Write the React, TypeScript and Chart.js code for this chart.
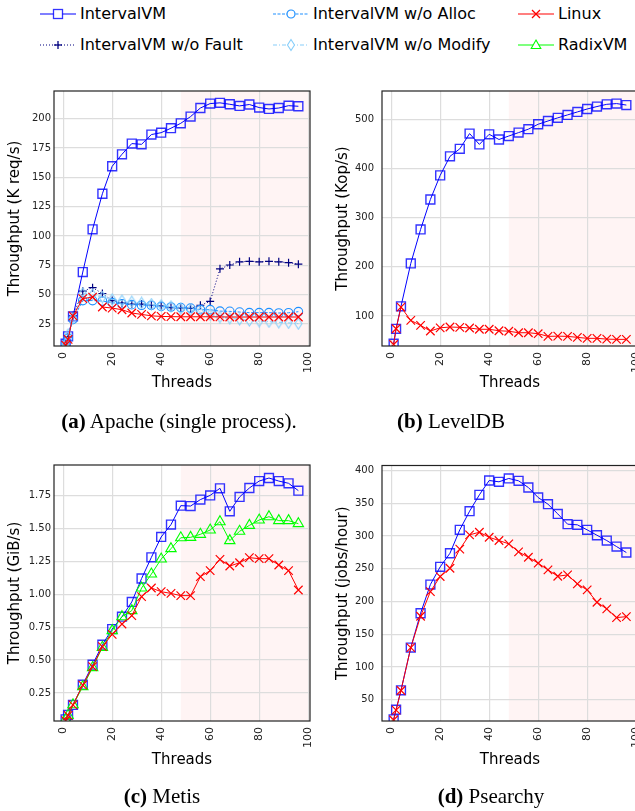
import React, { useEffect, useRef } from 'react';
import { Chart, registerables } from 'chart.js';

Chart.register(...registerables);

// ---------------- data ----------------
const threads = [1, 2, 4, 8, 12, 16, 20, 24, 28, 32, 36, 40, 44, 48, 52, 56, 60, 64, 68, 72, 76, 80, 84, 88, 92, 96];
const shadeStart = 48;
const xTicks = [0, 20, 40, 60, 80, 100];

// (a) Apache
const apacheInterval = [8.2, 14.5, 31.5, 69.3, 105.7, 136, 159.4, 169.6, 178.7, 178.1, 186.4, 188, 191.8, 196, 201.7, 209, 212.8, 213.4, 212.2, 210.8, 212, 209.4, 208.2, 209, 211, 210.5];
const apacheNoFault = [8, 14, 32, 53, 56, 51, 45, 43, 42, 42, 41, 40.6, 39, 38.6, 38.4, 41, 44.3, 72, 75.3, 78, 78.4, 78, 78.4, 78, 77.3, 76];
const apacheNoAlloc = [8, 13, 29, 45, 45, 44.6, 43.2, 42.3, 41.5, 41, 41, 40, 39.5, 39, 38.6, 37.2, 37.2, 36, 35.8, 35.2, 34.7, 34.7, 34.7, 34.4, 34.6, 35.5];
const apacheNoModify = [8, 16, 30, 51, 50, 48, 46, 45, 44, 43, 42, 41, 40, 38, 37, 35, 33, 31, 30, 29, 28, 27.5, 27, 26.5, 26, 25.3];
const apacheLinux = [7, 12, 32, 46.6, 48, 39.5, 38.6, 37.2, 34.4, 33.2, 32, 31.5, 31.3, 31.2, 31.2, 31.2, 31.2, 31.1, 31, 31, 31, 31, 31, 31, 31, 31];
const apacheYTicks = [25, 50, 75, 100, 125, 150, 175, 200];

// (b) LevelDB
const leveldbInterval = [43.7, 74, 119.7, 207, 276, 337, 386, 424.7, 440, 471, 449, 469.5, 459, 466, 473, 480, 490, 496.6, 503, 509, 515, 521, 526, 530.5, 532, 529];
const leveldbLinux = [42, 74, 118, 91, 81, 69.5, 76, 77.6, 77, 75.6, 73, 73, 70, 69, 66, 66, 64, 58.6, 59, 58.6, 56.6, 54.6, 54.6, 53, 52.5, 52.5];
const leveldbYTicks = [100, 200, 300, 400, 500];

// (c) Metis
const metisInterval = [0.05, 0.083, 0.159, 0.313, 0.465, 0.617, 0.736, 0.83, 0.942, 1.12, 1.281, 1.436, 1.53, 1.674, 1.671, 1.72, 1.752, 1.806, 1.631, 1.74, 1.808, 1.861, 1.884, 1.861, 1.844, 1.788];
const metisRadix = [0.05, 0.08, 0.16, 0.298, 0.443, 0.597, 0.724, 0.83, 0.876, 1.048, 1.154, 1.268, 1.347, 1.43, 1.433, 1.456, 1.489, 1.552, 1.408, 1.479, 1.524, 1.565, 1.59, 1.56, 1.56, 1.537];
const metisLinux = [0.04, 0.08, 0.16, 0.31, 0.45, 0.602, 0.696, 0.774, 0.838, 0.982, 1.048, 1.02, 1.007, 0.99, 0.99, 1.134, 1.18, 1.266, 1.215, 1.24, 1.279, 1.271, 1.271, 1.223, 1.18, 1.033];
const metisYTicks = [0.25, 0.5, 0.75, 1.0, 1.25, 1.5, 1.75];

// (d) Psearchy
const psearchyInterval = [20, 34.7, 64.3, 129.5, 182, 225.8, 252.8, 273.6, 309.3, 337.8, 362.8, 384.7, 382.7, 387.8, 384.2, 374, 358.7, 348.5, 333.7, 318, 317, 309.3, 301.1, 293, 283.8, 274.7];
const psearchyLinux = [19, 34, 64, 129.5, 177.4, 215, 238, 250.7, 279.8, 301.7, 305.7, 298, 293, 288, 275.7, 267.5, 258.4, 248.2, 238.5, 240.5, 226.8, 217.6, 198.8, 188.6, 175.3, 176.8];
const psearchyYTicks = [50, 100, 150, 200, 250, 300, 350, 400];

// ---------------- styles ----------------
type StyleKey = 'interval' | 'fault' | 'alloc' | 'modify' | 'linux' | 'radix';

const STYLES: Record<StyleKey, any> = {
  interval: { label: 'IntervalVM', color: '#0000ff', pointColor: 'rgba(0,0,255,0.8)', dash: [], marker: 'square', radius: 6.3, pbw: 1.4 },
  fault: { label: 'IntervalVM w/o Fault', color: '#000080', pointColor: '#000080', dash: [1, 2], marker: 'plus', radius: 4, pbw: 1.2 },
  alloc: { label: 'IntervalVM w/o Alloc', color: '#1e90ff', pointColor: '#1e90ff', dash: [3, 1.5], marker: 'circle', radius: 4.3, pbw: 1.1 },
  modify: { label: 'IntervalVM w/o Modify', color: '#87cefa', pointColor: '#87cefa', dash: [4, 2, 1, 2], marker: 'thinDiamond', radius: 5, pbw: 1.1 },
  linux: { label: 'Linux', color: '#ff0000', pointColor: '#ff0000', dash: [], marker: 'x', radius: 6, pbw: 1.2 },
  radix: { label: 'RadixVM', color: '#00ff00', pointColor: '#00ff00', dash: [], marker: 'triangle', radius: 6, pbw: 1.1 },
};

let diamondImg: HTMLCanvasElement | null = null;
function getDiamond() {
  if (diamondImg) return diamondImg;
  const c = document.createElement('canvas');
  c.width = 9;
  c.height = 13;
  const ctx = c.getContext('2d')!;
  ctx.strokeStyle = '#87cefa';
  ctx.lineWidth = 1.1;
  ctx.beginPath();
  ctx.moveTo(4.5, 1);
  ctx.lineTo(8, 6.5);
  ctx.lineTo(4.5, 12);
  ctx.lineTo(1, 6.5);
  ctx.closePath();
  ctx.stroke();
  diamondImg = c;
  return c;
}

function pointStyleFor(marker: string): any {
  switch (marker) {
    case 'square': return 'rect';
    case 'plus': return 'cross';
    case 'circle': return 'circle';
    case 'x': return 'crossRot';
    case 'triangle': return 'triangle';
    case 'thinDiamond': return getDiamond();
  }
  return 'circle';
}

const FONT = 'DejaVu Sans';

const framePlugin = {
  id: 'frameShade',
  beforeDraw(chart: any) {
    const { ctx, chartArea, scales } = chart;
    const x0 = scales.x.getPixelForValue(shadeStart);
    ctx.save();
    ctx.fillStyle = 'rgba(255,0,0,0.045)';
    ctx.fillRect(x0, chartArea.top, chartArea.right - x0, chartArea.bottom - chartArea.top);
    ctx.restore();
  },
  afterDraw(chart: any) {
    const { ctx, chartArea } = chart;
    ctx.save();
    ctx.strokeStyle = '#222';
    ctx.lineWidth = 1.2;
    ctx.strokeRect(chartArea.left, chartArea.top, chartArea.right - chartArea.left, chartArea.bottom - chartArea.top);
    ctx.restore();
  },
};

type PanelProps = {
  series: { key: StyleKey; values: number[] }[];
  yMin: number;
  yMax: number;
  yTicks: number[];
  yTitle: string;
  decimals: number;
  left: number;
  top: number;
  width: number;
  height: number;
  padTop: number;
  padRight: number;
  yWidth: number;
  xHeight: number;
  yTitlePad: number;
  xTitlePad: number;
  yTickPad: number;
};

function Panel(p: PanelProps) {
  const ref = useRef<HTMLCanvasElement | null>(null);
  useEffect(() => {
    if (!ref.current) return;
    const datasets = p.series.map((s) => {
      const st = STYLES[s.key];
      return {
        label: st.label,
        data: threads.map((t, i) => ({ x: t, y: s.values[i] })),
        borderColor: st.color,
        borderWidth: 1,
        borderDash: st.dash,
        pointStyle: pointStyleFor(st.marker),
        pointRadius: st.radius,
        pointBorderColor: st.pointColor,
        pointBackgroundColor: 'rgba(0,0,0,0)',
        pointBorderWidth: st.pbw,
        fill: false,
        tension: 0,
      };
    });
    const chart = new Chart(ref.current, {
      type: 'line',
      data: { datasets },
      options: {
        animation: false,
        responsive: false,
        devicePixelRatio: 1,
        events: [],
        layout: { padding: { left: 0, top: p.padTop, right: p.padRight, bottom: 0 } },
        plugins: { legend: { display: false }, tooltip: { enabled: false } },
        scales: {
          x: {
            type: 'linear',
            min: -3.75,
            max: 100.75,
            afterBuildTicks: (s: any) => {
              s.ticks = xTicks.map((v) => ({ value: v }));
            },
            afterFit: (s: any) => {
              s.height = p.xHeight;
              s.paddingLeft = 0;
              s.paddingRight = 0;
            },
            ticks: {
              minRotation: 90,
              maxRotation: 90,
              autoSkip: false,
              padding: 6,
              color: '#222',
              font: { family: FONT, size: 11 },
              callback: (v: any) => String(v),
            },
            grid: { color: '#dddddd', lineWidth: 1.2, drawTicks: false },
            border: { display: false },
            title: {
              display: true,
              text: 'Threads',
              color: '#000',
              font: { family: FONT, size: 15 },
              padding: { top: 0, bottom: p.xTitlePad },
            },
          },
          y: {
            type: 'linear',
            min: p.yMin,
            max: p.yMax,
            afterBuildTicks: (s: any) => {
              s.ticks = p.yTicks.map((v) => ({ value: v }));
            },
            afterFit: (s: any) => {
              s.width = p.yWidth;
              s.paddingTop = 0;
              s.paddingBottom = 0;
            },
            ticks: {
              padding: p.yTickPad,
              color: '#222',
              font: { family: FONT, size: 10 },
              callback: (v: any) => Number(v).toFixed(p.decimals),
            },
            grid: { color: '#dddddd', lineWidth: 1.2, drawTicks: false },
            border: { display: false },
            title: {
              display: true,
              text: p.yTitle,
              color: '#000',
              font: { family: FONT, size: 15 },
              padding: { top: p.yTitlePad, bottom: 0 },
            },
          },
        },
      } as any,
      plugins: [framePlugin],
    });
    return () => chart.destroy();
  }, []);
  return (
    <canvas
      ref={ref}
      width={p.width}
      height={p.height}
      style={{ position: 'absolute', left: p.left, top: p.top, width: p.width, height: p.height }}
    />
  );
}

function LegendMarker({ k }: { k: StyleKey }) {
  const st = STYLES[k];
  const c = st.color;
  const dash = st.dash.length ? st.dash.join(',') : undefined;
  let marker: any = null;
  const cx = 18;
  const cy = 10;
  switch (st.marker) {
    case 'square':
      marker = <rect x={cx - 4.5} y={cy - 4.5} width={9} height={9} fill="white" stroke={st.pointColor} strokeWidth={1.3} />;
      break;
    case 'plus':
      marker = (
        <g stroke={c} strokeWidth={1.3}>
          <line x1={cx - 4} y1={cy} x2={cx + 4} y2={cy} />
          <line x1={cx} y1={cy - 4} x2={cx} y2={cy + 4} />
        </g>
      );
      break;
    case 'circle':
      marker = <circle cx={cx} cy={cy} r={4} fill="white" stroke={c} strokeWidth={1.2} />;
      break;
    case 'thinDiamond':
      marker = <polygon points={`${cx},${cy - 5.5} ${cx + 3.5},${cy} ${cx},${cy + 5.5} ${cx - 3.5},${cy}`} fill="white" stroke={c} strokeWidth={1.1} />;
      break;
    case 'x':
      marker = (
        <g stroke={c} strokeWidth={1.3}>
          <line x1={cx - 4} y1={cy - 4} x2={cx + 4} y2={cy + 4} />
          <line x1={cx - 4} y1={cy + 4} x2={cx + 4} y2={cy - 4} />
        </g>
      );
      break;
    case 'triangle':
      marker = <polygon points={`${cx},${cy - 5} ${cx + 4.8},${cy + 3.5} ${cx - 4.8},${cy + 3.5}`} fill="white" stroke={c} strokeWidth={1.1} />;
      break;
  }
  return (
    <svg width={36} height={20} style={{ display: 'block', flex: 'none' }}>
      <line x1={0} y1={cy} x2={36} y2={cy} stroke={c} strokeWidth={1.2} strokeDasharray={dash} />
      {marker}
    </svg>
  );
}

const legendItems: { k: StyleKey; x: number; y: number }[] = [
  { k: 'interval', x: 40, y: 13.5 },
  { k: 'fault', x: 40, y: 44.5 },
  { k: 'alloc', x: 273, y: 13.5 },
  { k: 'modify', x: 273, y: 44.5 },
  { k: 'linux', x: 518, y: 13.5 },
  { k: 'radix', x: 518, y: 44.5 },
];

function Caption({ letter, text, cx, cy }: { letter: string; text: string; cx: number; cy: number }) {
  return (
    <div
      style={{
        position: 'absolute',
        left: cx - 160,
        width: 320,
        top: cy - 13,
        height: 26,
        lineHeight: '26px',
        textAlign: 'center',
        fontFamily: '"Liberation Serif", serif',
        fontSize: 21,
        color: '#000',
        whiteSpace: 'nowrap',
      }}
    >
      <b>({letter})</b> {text}
    </div>
  );
}

export default function App() {
  return (
    <div style={{ position: 'absolute', left: 0, top: 0, width: 635, height: 811, overflow: 'hidden', background: '#fff' }}>
      {legendItems.map((it) => (
        <div
          key={it.k}
          style={{
            position: 'absolute',
            left: it.x,
            top: it.y - 10,
            height: 20,
            display: 'flex',
            alignItems: 'center',
            whiteSpace: 'nowrap',
          }}
        >
          <LegendMarker k={it.k} />
          <span style={{ marginLeft: 4, fontFamily: FONT, fontSize: 16, color: '#000', lineHeight: '20px' }}>
            {STYLES[it.k].label}
          </span>
        </div>
      ))}

      <Panel
        series={[
          { key: 'linux', values: apacheLinux },
          { key: 'modify', values: apacheNoModify },
          { key: 'alloc', values: apacheNoAlloc },
          { key: 'fault', values: apacheNoFault },
          { key: 'interval', values: apacheInterval },
        ]}
        yMin={6.3}
        yMax={223.5}
        yTicks={apacheYTicks}
        yTitle="Throughput (K req/s)"
        decimals={0}
        left={0}
        top={80}
        width={320}
        height={330}
        padTop={11}
        padRight={10}
        yWidth={54}
        xHeight={64}
        yTitlePad={6}
        xTitlePad={17.7}
        yTickPad={3}
      />
      <Panel
        series={[
          { key: 'linux', values: leveldbLinux },
          { key: 'interval', values: leveldbInterval },
        ]}
        yMin={39}
        yMax={557.6}
        yTicks={leveldbYTicks}
        yTitle="Throughput (Kop/s)"
        decimals={0}
        left={320}
        top={80}
        width={330}
        height={330}
        padTop={11}
        padRight={12}
        yWidth={62}
        xHeight={64}
        yTitlePad={13.7}
        xTitlePad={17.7}
        yTickPad={8}
      />
      <Panel
        series={[
          { key: 'linux', values: metisLinux },
          { key: 'radix', values: metisRadix },
          { key: 'interval', values: metisInterval },
        ]}
        yMin={0.037}
        yMax={1.983}
        yTicks={metisYTicks}
        yTitle="Throughput (GiB/s)"
        decimals={2}
        left={0}
        top={455}
        width={320}
        height={330}
        padTop={10}
        padRight={10}
        yWidth={54}
        xHeight={64}
        yTitlePad={6}
        xTitlePad={16}
        yTickPad={3}
      />
      <Panel
        series={[
          { key: 'linux', values: psearchyLinux },
          { key: 'interval', values: psearchyInterval },
        ]}
        yMin={17.4}
        yMax={407.6}
        yTicks={psearchyYTicks}
        yTitle="Throughput (jobs/hour)"
        decimals={0}
        left={320}
        top={455}
        width={330}
        height={330}
        padTop={10.5}
        padRight={12}
        yWidth={62}
        xHeight={64}
        yTitlePad={13.7}
        xTitlePad={16}
        yTickPad={8}
      />

      <Caption letter="a" text="Apache (single process)." cx={179} cy={421} />
      <Caption letter="b" text="LevelDB" cx={451} cy={421} />
      <Caption letter="c" text="Metis" cx={162} cy={796} />
      <Caption letter="d" text="Psearchy" cx={491} cy={796} />
    </div>
  );
}
